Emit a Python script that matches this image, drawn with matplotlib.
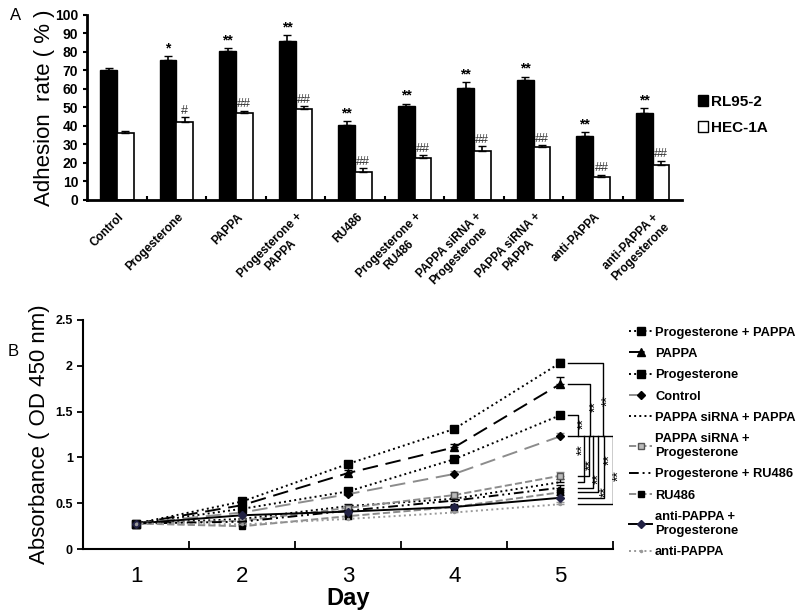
import numpy as np
import matplotlib
matplotlib.use("Agg")
import matplotlib.pyplot as plt
from matplotlib.patches import Patch
from matplotlib.lines import Line2D

plt.rcParams['font.family'] = ['Liberation Sans', 'DejaVu Sans']

# ---- panel A data
groups = ["Control", "Progesterone", "PAPPA", "Progesterone +\nPAPPA", "RU486",
          "Progesterone +\nRU486", "PAPPA siRNA +\nProgesterone", "PAPPA siRNA +\nPAPPA",
          "anti-PAPPA", "anti-PAPPA +\nProgesterone"]
rl95 = [70, 75.5, 80.5, 86, 40.5, 50.5, 60.5, 64.5, 34.5, 47]
rl95_err = [1.5, 2, 1.5, 3, 2, 1.5, 3, 2, 2, 2.5]
hec = [36, 42, 47, 49, 15, 22.5, 26.5, 28.5, 12.5, 19]
hec_err = [1, 2.5, 1, 1.5, 2, 1.5, 2.5, 1, 1, 2]
rl95_sig = ["", "*", "**", "**", "**", "**", "**", "**", "**", "**"]
hec_sig = ["", "#", "##", "##", "##", "##", "##", "##", "##", "##"]

# ---- panel B data
days = [1, 2, 3, 4, 5]
series = ["Progesterone + PAPPA", "PAPPA", "Progesterone", "Control",
          "PAPPA siRNA + PAPPA", "PAPPA siRNA +\nProgesterone", "Progesterone + RU486",
          "RU486", "anti-PAPPA +\nProgesterone", "anti-PAPPA"]
od = [
    [0.28, 0.52, 0.93, 1.31, 2.03],
    [0.28, 0.48, 0.83, 1.11, 1.80],
    [0.28, 0.44, 0.63, 0.98, 1.46],
    [0.28, 0.40, 0.60, 0.82, 1.23],
    [0.28, 0.33, 0.47, 0.55, 0.73],
    [0.28, 0.31, 0.45, 0.59, 0.80],
    [0.28, 0.30, 0.42, 0.53, 0.67],
    [0.28, 0.25, 0.36, 0.46, 0.62],
    [0.28, 0.37, 0.41, 0.46, 0.56],
    [0.28, 0.27, 0.33, 0.40, 0.49],
]
od_err = [
    [0.01, 0.02, 0.03, 0.03, 0.04],
    [0.01, 0.02, 0.03, 0.04, 0.08],
    [0.01, 0.02, 0.03, 0.03, 0.03],
    [0.01, 0.02, 0.02, 0.03, 0.04],
    [0.01, 0.01, 0.02, 0.02, 0.03],
    [0.01, 0.01, 0.02, 0.03, 0.04],
    [0.01, 0.01, 0.02, 0.02, 0.03],
    [0.01, 0.01, 0.02, 0.02, 0.03],
    [0.01, 0.02, 0.02, 0.02, 0.03],
    [0.01, 0.01, 0.02, 0.02, 0.02],
]

grey = '#8c8c8c'
styles = [
    dict(color='k', ls=':', marker='s', ms=6, mfc='k', mec='k'),
    dict(color='k', ls=(0, (8, 4)), marker='^', ms=6, mfc='k', mec='k'),
    dict(color='k', ls=':', marker='s', ms=6, mfc='k', mec='k'),
    dict(color=grey, ls=(0, (8, 4)), marker='D', ms=4, mfc='k', mec='k'),
    dict(color='k', ls=':', marker=None),
    dict(color=grey, ls='--', marker='s', ms=5, mfc='#bbbbbb', mec='#555555'),
    dict(color='k', ls=(0, (5, 2, 1, 2, 1, 2)), marker=None),
    dict(color=grey, ls='--', marker='s', ms=5, mfc='k', mec='k'),
    dict(color='k', ls='-', marker='D', ms=4, mfc='#222244', mec='#222244'),
    dict(color='#999999', ls=':', marker='.', ms=3, mfc='#999999', mec='#999999'),
]

fig = plt.figure(figsize=(8, 6.15), dpi=100)

# ================= panel A
axA = fig.add_axes([0.109, 0.675, 0.744, 0.301])
x = np.arange(len(groups))
w = 0.28
axA.bar(x - w / 2, rl95, w, color='k', edgecolor='k', lw=1)
axA.bar(x + w / 2, hec, w, color='white', edgecolor='k', lw=1.2)
axA.errorbar(x - w / 2, rl95, yerr=[np.zeros(len(x)), rl95_err], fmt='none',
             ecolor='k', elinewidth=1.2, capsize=3)
axA.errorbar(x + w / 2, hec, yerr=[np.zeros(len(x)), hec_err], fmt='none',
             ecolor='k', elinewidth=1.2, capsize=3)
for i in range(len(x)):
    if rl95_sig[i]:
        axA.text(x[i] - w / 2, rl95[i] + rl95_err[i] + 0.5, rl95_sig[i], ha='center',
                 va='bottom', fontsize=10, fontweight='bold')
    if hec_sig[i]:
        axA.text(x[i] + w / 2, hec[i] + hec_err[i] + 0.3, hec_sig[i], ha='center',
                 va='bottom', fontsize=9, color='#333333')
axA.set_xlim(-0.5, len(x) - 0.5)
axA.set_ylim(0, 100)
axA.set_yticks(range(0, 101, 10))
axA.set_yticklabels([str(v) for v in range(0, 101, 10)], fontsize=10, fontweight='bold')
axA.set_xticks(np.arange(0.5, len(x) - 0.5, 1))
axA.set_xticklabels([])
axA.tick_params(axis='x', direction='in', length=3, width=1.5)
axA.tick_params(axis='y', direction='out', length=3, width=1.5)
for i, g in enumerate(groups):
    axA.text(x[i] + 0.02, -6, g, rotation=45, ha='right', va='top', rotation_mode='anchor',
             fontsize=8.5, fontweight='bold', multialignment='center')
for s in ['top', 'right']:
    axA.spines[s].set_visible(False)
for s in ['left', 'bottom']:
    axA.spines[s].set_linewidth(2)
axA.set_ylabel("Adhesion  rate ( % )", fontsize=16, labelpad=0)
axA.legend(handles=[Patch(facecolor='k', edgecolor='k', label='RL95-2'),
                    Patch(facecolor='white', edgecolor='k', label='HEC-1A')],
           loc='upper left', bbox_to_anchor=(0.855, 0.868), bbox_transform=fig.transFigure,
           frameon=False, handlelength=0.7, handleheight=0.7, handletextpad=0.2,
           labelspacing=0.8, prop=dict(size=11, weight='bold'))
fig.text(0.012, 0.975, "A", fontsize=12, va='center')

# ================= panel B
axB = fig.add_axes([0.104, 0.107, 0.6625, 0.373])
for i in range(len(series)):
    st = styles[i]
    axB.errorbar(days, od[i], yerr=[np.zeros(5), od_err[i]], color=st['color'],
                 ls=st['ls'], lw=1.4, marker=st['marker'], ms=st.get('ms', 0),
                 mfc=st.get('mfc'), mec=st.get('mec'), ecolor=st['color'],
                 elinewidth=1, capsize=3, label=series[i])

# significance brackets at day 5
ctrl = od[3][4]
x0 = 5.07
upper_x = [5.40, 5.28, 5.17]
for j, xv in enumerate(upper_x):
    yv = od[j][4]
    axB.plot([x0, xv, xv], [yv, yv, ctrl], color='k', lw=1)
axB.plot([x0, 5.5], [ctrl, ctrl], color='k', lw=1)
lower_x = [5.22, 5.27, 5.31, 5.36, 5.41, 5.5]
for j, xv in enumerate(lower_x):
    yv = od[4 + j][4]
    axB.plot([5.17, xv, xv], [yv, yv, ctrl], color='k', lw=1)
star_pos = [(5.45, 1.62), (5.33, 1.55), (5.22, 1.37),
            (5.215, 1.08), (5.29, 0.92), (5.36, 0.77), (5.43, 0.63), (5.47, 0.98), (5.55, 0.80)]
for sx, sy in star_pos:
    axB.text(sx, sy, "**", rotation=90, ha='center', va='center', fontsize=10)

axB.set_xlim(0.5, 5.5)
axB.set_ylim(0, 2.5)
axB.set_xticks(np.arange(1.5, 5.6, 1))
axB.set_xticklabels([])
axB.set_xticks(days, minor=True)
axB.set_xticklabels([str(d) for d in days], minor=True, fontsize=16)
axB.tick_params(axis='x', which='major', direction='in', length=6, width=1.3)
axB.tick_params(axis='x', which='minor', length=0, pad=12)
axB.set_yticks([0, 0.5, 1, 1.5, 2, 2.5])
axB.set_yticklabels(['0', '0.5', '1', '1.5', '2', '2.5'], fontsize=9, fontweight='bold')
axB.tick_params(axis='y', direction='out', length=4, width=1.3)
for s in ['top', 'right']:
    axB.spines[s].set_visible(False)
for s in ['left', 'bottom']:
    axB.spines[s].set_linewidth(1.5)
axB.set_ylabel("Absorbance ( OD 450 nm)", fontsize=16, labelpad=4)
axB.set_xlabel("Day", fontsize=17, fontweight='bold', labelpad=0)

handles = []
for i in range(len(series)):
    st = styles[i]
    handles.append(Line2D([], [], color=st['color'], ls=st['ls'], lw=1.4,
                          marker=st['marker'], ms=st.get('ms', 0),
                          mfc=st.get('mfc'), mec=st.get('mec'), label=series[i]))
axB.legend(handles=handles, loc='upper left', bbox_to_anchor=(0.772, 0.488),
           bbox_transform=fig.transFigure, frameon=False, handlelength=1.8,
           handletextpad=0.2, labelspacing=0.72, prop=dict(size=9.3, weight='bold'))
fig.text(0.01, 0.428, "B", fontsize=12, va='center')

fig.savefig("out.png", dpi=100)
